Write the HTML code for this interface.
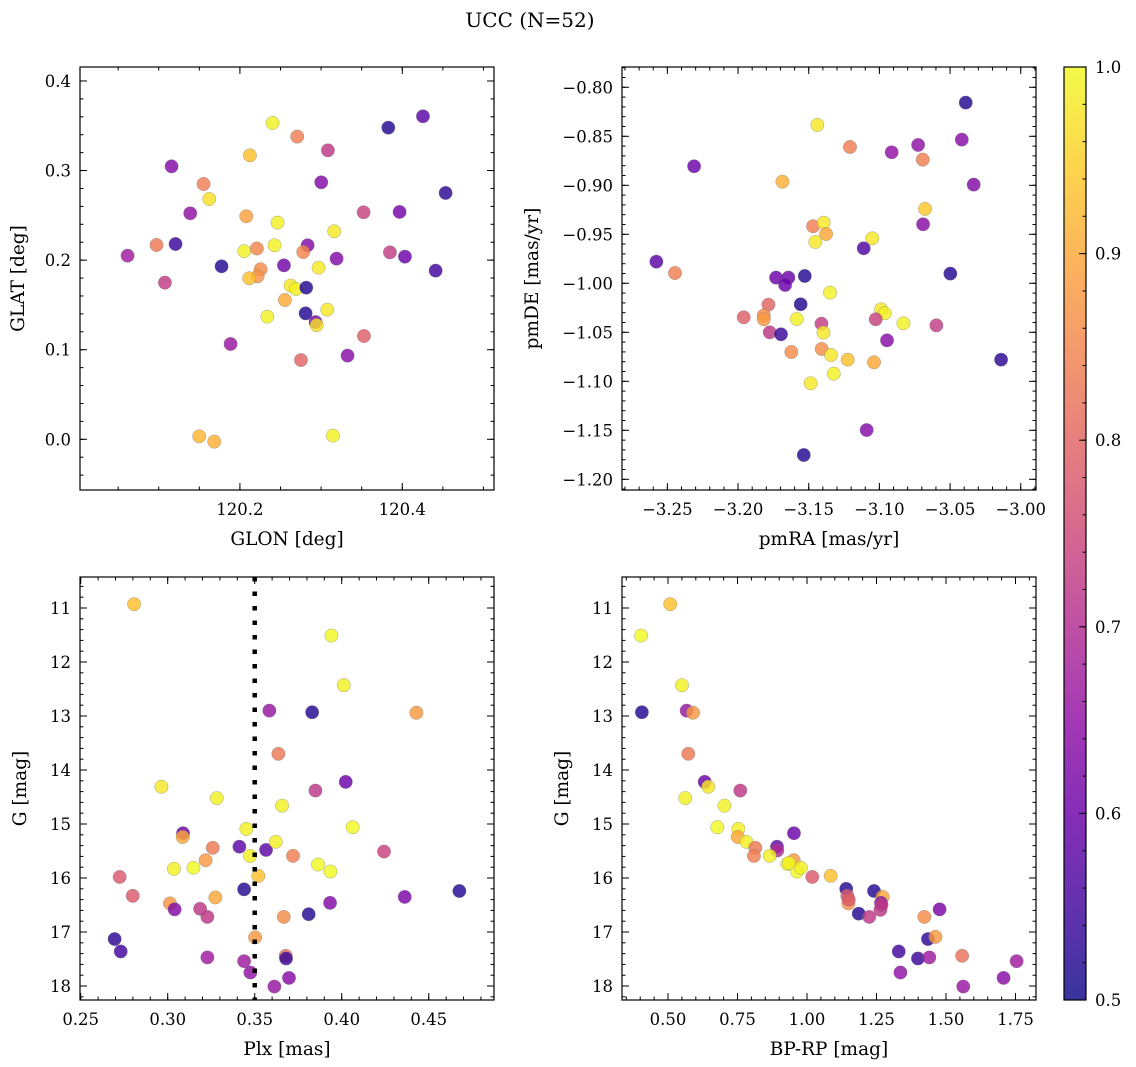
<!DOCTYPE html>
<html><head><meta charset="utf-8">
<style>
html,body{margin:0;padding:0;background:#fff;}
svg{display:block;font-family:"DejaVu Serif","Liberation Serif",serif;}
</style></head>
<body>
<svg id="fig" width="1136" height="1067" viewBox="0 0 1136 1067" xmlns="http://www.w3.org/2000/svg">
<defs>
<linearGradient id="plasma" x1="0" y1="1" x2="0" y2="0">
<stop offset="0" stop-color="#0d0887"/><stop offset="0.1" stop-color="#41049d"/><stop offset="0.2" stop-color="#6a00a8"/><stop offset="0.3" stop-color="#8f0da4"/><stop offset="0.4" stop-color="#b12a90"/><stop offset="0.5" stop-color="#cc4778"/><stop offset="0.6" stop-color="#e16462"/><stop offset="0.7" stop-color="#f2844b"/><stop offset="0.8" stop-color="#fca636"/><stop offset="0.9" stop-color="#fcce25"/><stop offset="1" stop-color="#f0f921"/>
</linearGradient>
</defs>
<text x="530" y="27" font-size="20" text-anchor="middle">UCC (N=52)</text>
</svg>
<script>
// Panel 1: GLON vs GLAT
const glon = [120.2402,120.2706,120.3084,120.2123,120.3828,120.4255,120.1158,120.1552,120.1622,120.3002,120.4534,120.1388,120.2078,120.3524,120.3967,120.2464,120.3162,120.0973,120.1207,120.0616,120.2053,120.2209,120.2427,120.2834,120.2780,120.3848,120.4033,120.3191,120.1774,120.2542,120.2969,120.4411,120.2255,120.2218,120.2115,120.1076,120.2624,120.2690,120.2817,120.2554,120.3076,120.2809,120.2337,120.2932,120.2945,120.3528,120.1885,120.3326,120.2752,120.1499,120.1684,120.3146];
const glat = [0.3531,0.3379,0.3226,0.3170,0.3479,0.3606,0.3047,0.2850,0.2683,0.2869,0.2750,0.2523,0.2490,0.2534,0.2538,0.2419,0.2322,0.2169,0.2180,0.2050,0.2100,0.2130,0.2166,0.2166,0.2091,0.2087,0.2039,0.2017,0.1931,0.1942,0.1916,0.1883,0.1898,0.1820,0.1797,0.1749,0.1716,0.1678,0.1693,0.1555,0.1447,0.1406,0.1369,0.1309,0.1275,0.1153,0.1064,0.0934,0.0885,0.0033,-0.0026,0.0041];
const prob1 = [0.99,0.84,0.72,0.93,0.52,0.58,0.63,0.84,0.97,0.63,0.53,0.65,0.89,0.74,0.61,0.99,0.98,0.83,0.54,0.67,0.99,0.85,0.99,0.63,0.85,0.73,0.60,0.63,0.52,0.61,0.98,0.55,0.86,0.87,0.93,0.73,0.98,0.99,0.52,0.90,0.98,0.52,0.99,0.62,0.97,0.79,0.66,0.64,0.80,0.92,0.91,0.99];
// Panel 2: pmRA vs pmDE
const pmra = [-3.0389,-3.1439,-3.1208,-3.0913,-3.0726,-3.0417,-3.0693,-3.2311,-3.0333,-3.1686,-3.0677,-3.0691,-3.1469,-3.1394,-3.1377,-3.1453,-3.1050,-3.1111,-3.2578,-3.2446,-3.0498,-3.1731,-3.1644,-3.1667,-3.1528,-3.1349,-3.1785,-3.1557,-3.1960,-3.1818,-3.1818,-3.1585,-3.0988,-3.0962,-3.1026,-3.0830,-3.1410,-3.0597,-3.1776,-3.1696,-3.1396,-3.0946,-3.1623,-3.1408,-3.1342,-3.1224,-3.1038,-3.0139,-3.1323,-3.1486,-3.1090,-3.1535];
const pmde = [-0.8156,-0.8384,-0.8609,-0.8663,-0.8588,-0.8534,-0.8738,-0.8806,-0.8993,-0.8963,-0.9241,-0.9398,-0.9418,-0.9381,-0.9497,-0.9578,-0.9541,-0.9643,-0.9779,-0.9895,-0.9901,-0.9942,-0.9942,-1.0017,-0.9925,-1.0095,-1.0218,-1.0214,-1.0347,-1.0327,-1.0367,-1.0364,-1.0265,-1.0306,-1.0367,-1.0408,-1.0412,-1.0429,-1.0500,-1.0520,-1.0503,-1.0582,-1.0701,-1.0670,-1.0731,-1.0779,-1.0806,-1.0779,-1.0922,-1.1020,-1.1497,-1.1752];
const prob2 = [0.52,0.98,0.84,0.65,0.65,0.64,0.84,0.60,0.63,0.91,0.94,0.64,0.84,0.98,0.90,0.98,0.98,0.57,0.58,0.84,0.52,0.60,0.60,0.60,0.52,0.99,0.80,0.52,0.79,0.86,0.88,0.99,0.98,0.99,0.74,0.99,0.73,0.73,0.72,0.54,0.98,0.64,0.86,0.86,0.98,0.93,0.90,0.53,0.99,0.98,0.63,0.52];
// Panel 3: Plx vs G
const plx = [0.2807,0.3941,0.4012,0.3584,0.3830,0.4429,0.3636,0.2964,0.4023,0.3849,0.3282,0.3657,0.3452,0.4063,0.3088,0.3086,0.3259,0.3412,0.3565,0.3621,0.3473,0.3720,0.4243,0.3218,0.3036,0.3148,0.3864,0.3935,0.2724,0.3521,0.3439,0.4676,0.2799,0.4362,0.3274,0.3933,0.3013,0.3040,0.3186,0.3228,0.3667,0.3810,0.2695,0.2730,0.3502,0.3678,0.3680,0.3228,0.3439,0.3475,0.3697,0.3613];
const gmag3 = [10.93,11.51,12.43,12.90,12.93,12.94,13.70,14.31,14.22,14.38,14.52,14.66,15.09,15.06,15.17,15.24,15.44,15.42,15.48,15.33,15.59,15.59,15.51,15.67,15.83,15.81,15.75,15.88,15.98,15.96,16.21,16.24,16.33,16.35,16.36,16.46,16.47,16.58,16.57,16.72,16.72,16.67,17.13,17.36,17.10,17.44,17.49,17.47,17.54,17.75,17.85,18.01];
const prob3 = [0.93,1.0,0.99,0.66,0.52,0.88,0.83,0.98,0.60,0.72,0.99,0.99,0.99,1.0,0.60,0.90,0.83,0.58,0.58,0.99,0.99,0.84,0.74,0.88,0.99,1.0,1.0,1.0,0.78,0.93,0.52,0.52,0.78,0.62,0.90,0.63,0.87,0.63,0.72,0.72,0.86,0.52,0.53,0.55,0.88,0.82,0.54,0.67,0.67,0.65,0.64,0.66];
// Panel 4: BP-RP vs G
const bprp = [0.508,0.403,0.550,0.406,0.567,0.590,0.573,0.632,0.645,0.760,0.562,0.703,0.677,0.753,0.953,0.751,0.782,0.814,0.809,0.892,0.893,0.866,0.952,0.929,0.964,0.978,1.019,1.085,1.141,1.241,1.145,1.272,1.266,1.149,1.186,1.224,1.264,1.477,1.422,1.435,1.462,1.330,1.399,1.440,1.558,1.754,1.336,1.707,1.562,1.150,1.268,0.935];
const gmag4 = [10.93,11.51,12.43,12.93,12.90,12.94,13.70,14.22,14.31,14.38,14.52,14.66,15.06,15.09,15.17,15.24,15.33,15.44,15.59,15.42,15.49,15.59,15.67,15.74,15.88,15.81,15.98,15.96,16.20,16.24,16.33,16.35,16.46,16.47,16.66,16.72,16.59,16.58,16.72,17.13,17.09,17.36,17.49,17.47,17.44,17.54,17.75,17.85,18.01,16.40,16.50,15.72];
const prob4 = [0.93,1.0,0.99,0.52,0.66,0.88,0.83,0.60,0.98,0.72,0.99,0.99,1.0,0.99,0.60,0.90,0.99,0.83,0.84,0.58,0.70,0.99,0.88,1.0,1.0,0.99,0.78,0.93,0.52,0.52,0.78,0.90,0.63,0.87,0.52,0.72,0.72,0.62,0.86,0.53,0.88,0.55,0.54,0.67,0.82,0.67,0.65,0.64,0.66,0.78,0.72,0.99];
// Colorbar ticks
const cbTicks = [0.5,0.6,0.7,0.8,0.9,1.0];

const NS = "http://www.w3.org/2000/svg";
const svg = document.getElementById('fig');
const stops = [[13,8,135],[65,4,157],[106,0,168],[143,13,164],[177,42,144],[204,71,120],[225,100,98],[242,132,75],[252,166,54],[252,206,37],[240,249,33]];
function plasma(v){
  let t = Math.max(0, Math.min(1, (v-0.5)/0.5)) * 10;
  const i = Math.min(9, Math.floor(t)); const f = t - i;
  const a = stops[i], b = stops[i+1];
  return 'rgb(' + a.map((c,k)=>Math.round(c+(b[k]-c)*f)).join(',') + ')';
}
function mk(tag, attrs, parent){
  const e = document.createElementNS(NS, tag);
  for (const k in attrs) e.setAttribute(k, attrs[k]);
  (parent||svg).appendChild(e); return e;
}
function fmt(v, d){ const s = v.toFixed(d); return s.replace('-', '\u2212'); }
function rng(a, b, step){ const out=[]; const n=Math.round((b-a)/step); for(let i=0;i<=n;i++) out.push(+(a+i*step).toFixed(6)); return out; }
const TK = 16.5, LB = 18.5;

function panel(cfg){
  const {name, L, T, W, H, xmin, xmax, ymin, ymax, yInv, xs, ys, ps, xMaj, xMin, yMaj, yMin, xd, yd, xlabel, ylabel, ylabX} = cfg;
  const g = mk('g', {});
  
  
  const X = v => L + (v - xmin) / (xmax - xmin) * W;
  const Y = yInv ? (v => T + (v - ymin) / (ymax - ymin) * H) : (v => T + (ymax - v) / (ymax - ymin) * H);
  const pg = mk('g', {}, g);
  
  
  for (let i = 0; i < xs.length; i++){
    const c = mk('circle', {cx: X(xs[i]).toFixed(2), cy: Y(ys[i]).toFixed(2), r: 6.7, fill: plasma(ps[i]), 'fill-opacity': 0.82, stroke: '#777', 'stroke-width': 0.4, 'stroke-opacity': 0.8}, pg);
    
    
  }
  if (cfg.vline !== undefined){
    const l = mk('line', {x1: X(cfg.vline), x2: X(cfg.vline), y1: T, y2: T+H, stroke: '#000', 'stroke-width': 4.5, 'stroke-dasharray': '4.5 10'}, g);
    
    
  }
  const tg = mk('g', {stroke: '#000', 'stroke-width': 1}, g);
  
  
  const inX = v => v >= Math.min(xmin,xmax)-1e-9 && v <= Math.max(xmin,xmax)+1e-9;
  const inY = v => v >= Math.min(ymin,ymax)-1e-9 && v <= Math.max(ymin,ymax)+1e-9;
  xMin.filter(inX).forEach(v => { const x = X(v); mk('line',{x1:x,x2:x,y1:T+H,y2:T+H-3.5},tg); mk('line',{x1:x,x2:x,y1:T,y2:T+3.5},tg); });
  yMin.filter(inY).forEach(v => { const y = Y(v); mk('line',{x1:L,x2:L+3.5,y1:y,y2:y},tg); mk('line',{x1:L+W,x2:L+W-3.5,y1:y,y2:y},tg); });
  xMaj.filter(inX).forEach(v => { const x = X(v); mk('line',{x1:x,x2:x,y1:T+H,y2:T+H-7},tg); mk('line',{x1:x,x2:x,y1:T,y2:T+7},tg);
    const t = mk('text',{x:x, y:T+H+25, 'font-size':TK, 'text-anchor':'middle', stroke:'none'}, g); t.textContent = fmt(v, xd);
      });
  yMaj.filter(inY).forEach(v => { const y = Y(v); mk('line',{x1:L,x2:L+7,y1:y,y2:y},tg); mk('line',{x1:L+W,x2:L+W-7,y1:y,y2:y},tg);
    const t = mk('text',{x:L-9, y:y+6, 'font-size':TK, 'text-anchor':'end', stroke:'none'}, g); t.textContent = fmt(v, yd);
      });
  const fr = mk('rect', {x:L, y:T, width:W, height:H, fill:'none', stroke:'#000', 'stroke-width':1.2}, g);
  
  
  const xl = mk('text', {x: L+W/2, y: T+H+55, 'font-size':LB, 'text-anchor':'middle'}, g); xl.textContent = xlabel;
   
  const cy = T+H/2;
  const yl = mk('text', {x: ylabX, y: cy, 'font-size':LB, 'text-anchor':'middle', transform:'rotate(-90 '+ylabX+' '+cy+')'}, g); yl.textContent = ylabel;
   
}

panel({name:'glon-glat', L:80, T:67, W:414, H:423, xmin:120.003, xmax:120.513, ymin:-0.0566, ymax:0.4156,
  xs:glon, ys:glat, ps:prob1, xMaj:[120.2,120.4], xMin:rng(120.0,120.5,0.05), yMaj:rng(0,0.4,0.1), yMin:rng(-0.06,0.42,0.02), xd:1, yd:1,
  xlabel:'GLON [deg]', ylabel:'GLAT [deg]', ylabX:24});
panel({name:'pmra-pmde', L:622, T:67, W:414, H:423, xmin:-3.2821, xmax:-2.9892, ymin:-1.2109, ymax:-0.7793,
  xs:pmra, ys:pmde, ps:prob2, xMaj:rng(-3.25,-3.0,0.05), xMin:rng(-3.28,-2.99,0.01), yMaj:rng(-1.2,-0.8,0.05), yMin:rng(-1.21,-0.78,0.01), xd:2, yd:2,
  xlabel:'pmRA [mas/yr]', ylabel:'pmDE [mas/yr]', ylabX:538});
panel({name:'plx-g', L:80, T:577, W:414, H:423, xmin:0.2496, xmax:0.4875, ymin:10.426, ymax:18.259, yInv:true,
  xs:plx, ys:gmag3, ps:prob3, xMaj:rng(0.25,0.45,0.05), xMin:rng(0.25,0.48,0.01), yMaj:rng(11,18,1), yMin:rng(10.6,18.2,0.2), xd:2, yd:0,
  xlabel:'Plx [mas]', ylabel:'G [mag]', ylabX:26, vline:0.35});
panel({name:'bprp-g', L:622, T:577, W:414, H:423, xmin:0.3345, xmax:1.8237, ymin:10.426, ymax:18.259, yInv:true,
  xs:bprp, ys:gmag4, ps:prob4, xMaj:rng(0.5,1.75,0.25), xMin:rng(0.35,1.8,0.05), yMaj:rng(11,18,1), yMin:rng(10.6,18.2,0.2), xd:2, yd:0,
  xlabel:'BP-RP [mag]', ylabel:'G [mag]', ylabX:568});

(function(){
  const L=1064, T=67, W=22, H=933;
  const g = mk('g', {});
  
  
  mk('rect', {x:L, y:T, width:W, height:H, fill:'url(#plasma)', 'fill-opacity':0.82}, g);
  mk('rect', {x:L, y:T, width:W, height:H, fill:'none', stroke:'#000', 'stroke-width':1.2}, g);
  const Y = v => T + (1.0 - v)/0.5*H;
  rng(0.5,1.0,0.02).forEach(v => mk('line', {x1:L+W, x2:L+W-3.5, y1:Y(v), y2:Y(v), stroke:'#000'}, g));
  cbTicks.forEach(v => {
    mk('line', {x1:L+W, x2:L+W-7, y1:Y(v), y2:Y(v), stroke:'#000'}, g);
    const t = mk('text', {x:L+W+9, y:Y(v)+6, 'font-size':TK}, g);
    t.textContent = v.toFixed(1);
    
    
  });
})();
</script>
</body></html>
